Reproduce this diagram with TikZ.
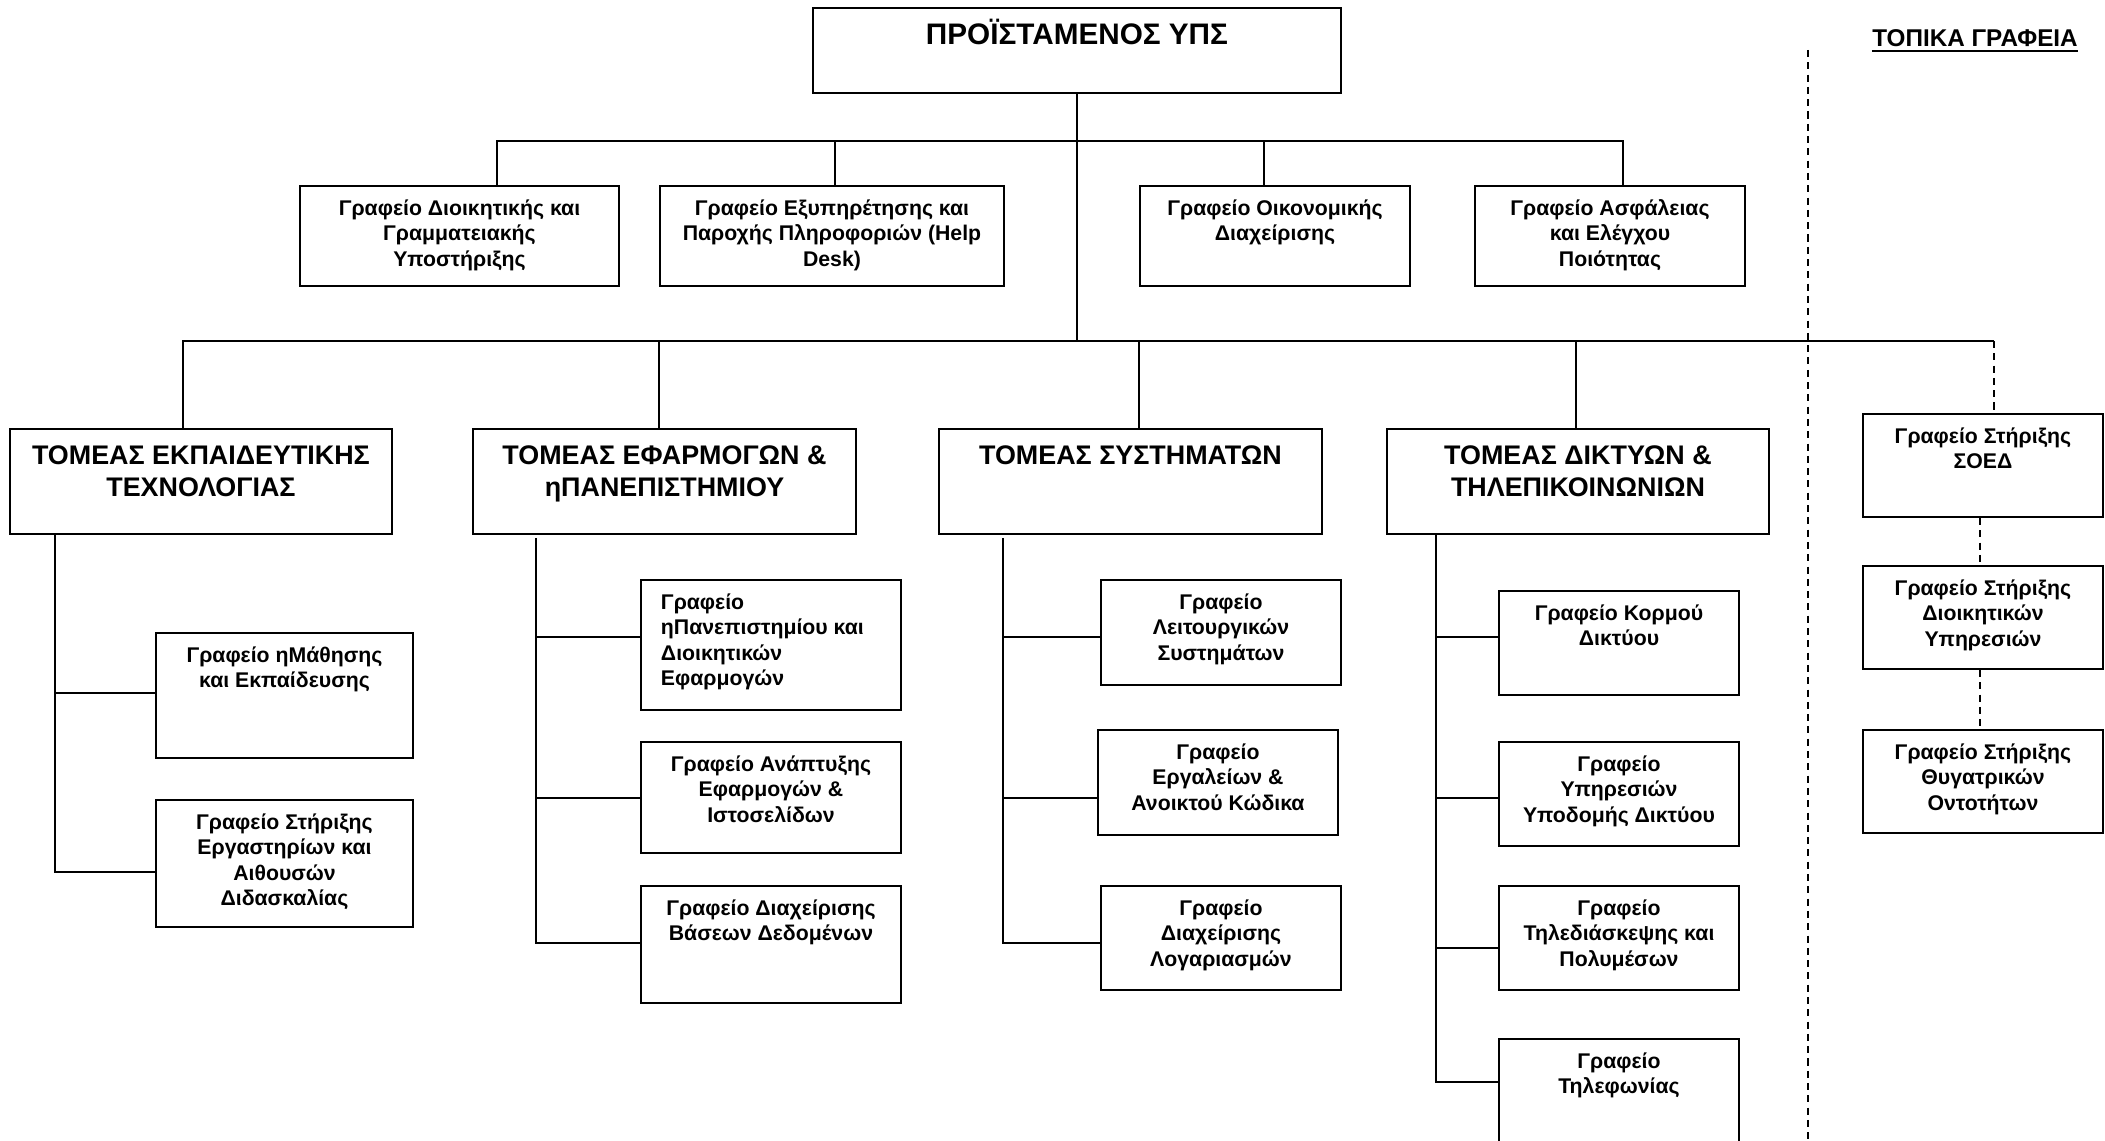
\documentclass[tikz,border=0pt]{standalone}
\usepackage{fontspec}
\setmainfont{Liberation Sans}
\newlength{\upx}\setlength{\upx}{0.02cm}
\newcommand{\cell}[4][17pt]{\parbox[c][#3\upx][t]{#2\upx}{\centering\rule{0pt}{#1}#4}}

\begin{document}
\begin{tikzpicture}[x=0.02cm, y=-0.02cm,
    office/.style={draw, line width=1.1pt, inner sep=0pt, anchor=north west,
                   font=\fontsize{12.1}{14.3}\selectfont\bfseries},
    sector/.style={office, font=\fontsize{15.3}{18.3}\selectfont\bfseries},
    link/.style={line width=1.2pt},
    local/.style={line width=1.1pt, dash pattern=on 4pt off 3pt}]

         \useasboundingbox (0,0) rectangle (2105,1141);

         % head and staff offices
         \node [office] (chief)    at (812,7)    {\cell[21pt]{528}{85}{\fontsize{16.9}{19}\selectfont ΠΡΟΪΣΤΑΜΕΝΟΣ ΥΠΣ}};
         \node [office] (admin)    at (299,185)  {\cell{319}{100}{Γραφείο Διοικητικής και\\ Γραμματειακής\\ Υποστήριξης}};
         \node [office] (helpdesk) at (659,185)  {\cell{344}{100}{Γραφείο Εξυπηρέτησης και\\ Παροχής Πληροφοριών (Help\\ Desk)}};
         \node [office] (finance)  at (1139,185) {\cell{270}{100}{Γραφείο Οικονομικής\\ Διαχείρισης}};
         \node [office] (quality)  at (1474,185) {\cell{270}{100}{Γραφείο Ασφάλειας\\ και Ελέγχου\\ Ποιότητας}};

         % sectors
         \node [sector] (edutech)  at (9,428)    {\cell[20pt]{382}{105}{ΤΟΜΕΑΣ ΕΚΠΑΙΔΕΥΤΙΚΗΣ\\ ΤΕΧΝΟΛΟΓΙΑΣ}};
         \node [sector] (apps)     at (472,428)  {\cell[20pt]{383}{105}{ΤΟΜΕΑΣ ΕΦΑΡΜΟΓΩΝ \&\\ ηΠΑΝΕΠΙΣΤΗΜΙΟΥ}};
         \node [sector] (systems)  at (938,428)  {\cell[20pt]{383}{105}{ΤΟΜΕΑΣ ΣΥΣΤΗΜΑΤΩΝ}};
         \node [sector] (networks) at (1386,428) {\cell[20pt]{382}{105}{ΤΟΜΕΑΣ ΔΙΚΤΥΩΝ \&\\ ΤΗΛΕΠΙΚΟΙΝΩΝΙΩΝ}};

         \node [office] (elearn)   at (155,632)  {\cell{257}{125}{Γραφείο ηΜάθησης\\ και Εκπαίδευσης}};
         \node [office] (labs)     at (155,799)  {\cell{257}{127}{Γραφείο Στήριξης\\ Εργαστηρίων και\\ Αιθουσών\\ Διδασκαλίας}};

         \node [office] (upnet)    at (640,579)  {\cell{260}{130}{\raggedright\leftskip=20\upx Γραφείο\\ ηΠανεπιστημίου και\\ Διοικητικών\\ Εφαρμογών}};
         \node [office] (webdev)   at (640,741)  {\cell{260}{111}{Γραφείο Ανάπτυξης\\ Εφαρμογών \&\\ Ιστοσελίδων}};
         \node [office] (dbase)    at (640,885)  {\cell{260}{117}{Γραφείο Διαχείρισης\\ Βάσεων Δεδομένων}};

         \node [office] (opsys)    at (1100,579) {\cell{240}{105}{Γραφείο\\ Λειτουργικών\\ Συστημάτων}};
         \node [office] (opensrc)  at (1097,729) {\cell{240}{105}{Γραφείο\\ Εργαλείων \&\\ Ανοικτού Κώδικα}};
         \node [office] (accounts) at (1100,885) {\cell{240}{104}{Γραφείο\\ Διαχείρισης\\ Λογαριασμών}};

         \node [office] (backbone) at (1498,590)  {\cell{240}{104}{Γραφείο Κορμού\\ Δικτύου}};
         \node [office] (infra)    at (1498,741)  {\cell{240}{104}{Γραφείο\\ Υπηρεσιών\\ Υποδομής Δικτύου}};
         \node [office] (conf)     at (1498,885)  {\cell{240}{104}{Γραφείο\\ Τηλεδιάσκεψης και\\ Πολυμέσων}};
         \node [office] (phone)    at (1498,1038) {\cell{240}{110}{Γραφείο\\ Τηλεφωνίας}};

         % local offices
         \node [font=\fontsize{13.8}{16}\selectfont\bfseries, inner sep=0pt, anchor=base] (localtitle) at (1975,47) {ΤΟΠΙΚΑ ΓΡΑΦΕΙΑ};
         \node [office] (soed)     at (1862,413) {\cell{240}{103}{Γραφείο Στήριξης\\ ΣΟΕΔ}};
         \node [office] (adminsup) at (1862,565) {\cell{240}{103}{Γραφείο Στήριξης\\ Διοικητικών\\ Υπηρεσιών}};
         \node [office] (subsid)   at (1862,729) {\cell{240}{103}{Γραφείο Στήριξης\\ Θυγατρικών\\ Οντοτήτων}};

         \coordinate (ul) at (497,141);
         \coordinate (ur) at (1623,141);
         \coordinate (ml) at (183,341);
         \coordinate (mr) at (1994,341);
         \coordinate (appsv) at (536,538);
         \coordinate (sysv)  at (1003,538);
         \coordinate (netv)  at (networks.south -| 1436,0);
         \coordinate (septop) at (1808,50);
         \coordinate (sepbot) at (1808,1141);

         \draw [link] (chief.south) -- (chief.south |- ml);
         \draw [link] (admin.north -| ul) -- (ul) -- (ur) -- (quality.north -| ur);
         \draw [link] (helpdesk.north -| 835,0) -- (835,0 |- ul);
         \draw [link] (finance.north -| 1264,0) -- (1264,0 |- ul);

         \draw [link] (edutech.north -| ml) -- (ml) -- (mr);
         \draw [link] (apps.north -| 659,0) -- (659,0 |- ml);
         \draw [link] (systems.north -| 1139,0) -- (1139,0 |- ml);
         \draw [link] (networks.north -| 1576,0) -- (1576,0 |- ml);
         \draw [local] (mr) -- (soed.north -| mr);

         \draw [link] (edutech.south -| 55,0) |- (labs.west |- 0,872);
         \draw [link] (elearn.west |- 0,693) -- (55,0 |- 0,693);

         \draw [link] (appsv) |- (dbase.west |- 0,943);
         \draw [link] (upnet.west |- 0,637) -- (appsv |- 0,637);
         \draw [link] (webdev.west |- 0,798) -- (appsv |- 0,798);

         \draw [link] (sysv) |- (accounts.west |- 0,943);
         \draw [link] (opsys.west |- 0,637) -- (sysv |- 0,637);
         \draw [link] (opensrc.west |- 0,798) -- (sysv |- 0,798);

         \draw [link] (netv) |- (phone.west |- 0,1082);
         \draw [link] (backbone.west |- 0,637) -- (netv |- 0,637);
         \draw [link] (infra.west |- 0,798) -- (netv |- 0,798);
         \draw [link] (conf.west |- 0,948) -- (netv |- 0,948);

         \draw [local] (soed.south -| 1980,0) -- (adminsup.north -| 1980,0);
         \draw [local] (adminsup.south -| 1980,0) -- (subsid.north -| 1980,0);
         \draw [local] (septop) -- (sepbot);
         \draw [line width=1.5pt] ([yshift=-2.2pt]localtitle.base west) -- ([yshift=-2.2pt]localtitle.base east);

\end{tikzpicture}
\end{document}
